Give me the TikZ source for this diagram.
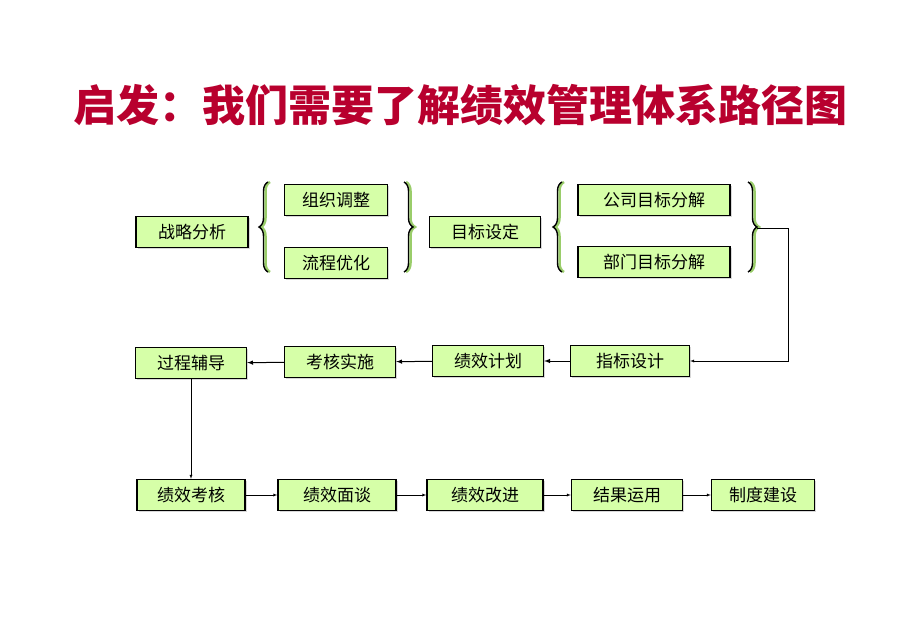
\documentclass[tikz,border=0pt]{standalone}
\usepackage{fontspec}
\setmainfont{Noto Sans CJK SC}
\usetikzlibrary{decorations.pathreplacing,shadows}
\definecolor{titlered}{HTML}{B8002E}
\definecolor{boxfill}{HTML}{D6FFA8}
\definecolor{braceshadow}{HTML}{9ACD6A}
\begin{document}
\begin{tikzpicture}[x=1pt,y=-1pt,thin,
    step node/.style={draw,line width=1.4pt,fill=boxfill,font=\fontsize{17}{19}\selectfont,
        minimum height=31pt,inner sep=0pt,drop shadow={shadow xshift=1.5pt,shadow yshift=-1.5pt,fill=gray!60}},
    brace/.style={decorate,decoration={brace,amplitude=9pt},line width=1.4pt},
    arrow/.style={-latex}]
    \useasboundingbox (0,0) rectangle (920,626);
    \node[font=\fontsize{43}{48}\bfseries\selectfont,text=titlered] at (460,105) (title) {启发：我们需要了解绩效管理体系路径图};

    % first row
    \node[step node,minimum width=112pt] at (192,232) (a) {战略分析};
    \node[step node,minimum width=103pt] at (336,200) (b1) {组织调整};
    \node[step node,minimum width=103pt] at (336,263) (b2) {流程优化};
    \node[step node,minimum width=111pt] at (485,232) (c) {目标设定};
    \node[step node,minimum width=152pt] at (654,200) (d1) {公司目标分解};
    \node[step node,minimum width=152pt] at (654,262) (d2) {部门目标分解};

    \foreach \x/\m in {268/0,404/1,562/0,748/1}{
        \ifnum\m=0
            \draw[brace,braceshadow,line width=2.5pt] (\x+2,272) -- (\x+2,182);
            \draw[brace] (\x,272) -- (\x,182);
        \else
            \draw[brace,braceshadow,line width=2.5pt] (\x+2,182) -- (\x+2,272);
            \draw[brace] (\x,182) -- (\x,272);
        \fi
    }
    \coordinate (tip) at (757,228);
    \coordinate (turn) at (788,228);

    % second row
    \node[step node,minimum width=119pt] at (630,361) (e) {指标设计};
    \node[step node,minimum width=111pt] at (488,361) (f) {绩效计划};
    \node[step node,minimum width=111pt] at (340,362) (g) {考核实施};
    \node[step node,minimum width=111pt] at (191,363) (h) {过程辅导};

    % third row
    \node[step node,minimum width=108pt] at (191,495) (i) {绩效考核};
    \node[step node,minimum width=118pt] at (337,495) (j) {绩效面谈};
    \node[step node,minimum width=116pt] at (485,495) (k) {绩效改进};
    \node[step node,minimum width=111pt] at (627,495) (l) {结果运用};
    \node[step node,minimum width=103pt] at (763,495) (m) {制度建设};

    \draw[arrow] (tip) -- (turn) |- (e.east);
    \draw[arrow,line width=1pt] (e) -- (f);
    \draw[arrow,line width=1pt] (f) -- (g);
    \draw[arrow,line width=1pt] (g) -- (h);
    \draw[arrow] (h.south) -- (i.north);
    \draw[arrow] (i) -- (j);
    \draw[arrow] (j) -- (k);
    \draw[arrow] (k) -- (l);
    \draw[arrow] (l) -- (m);
\end{tikzpicture}
\end{document}
